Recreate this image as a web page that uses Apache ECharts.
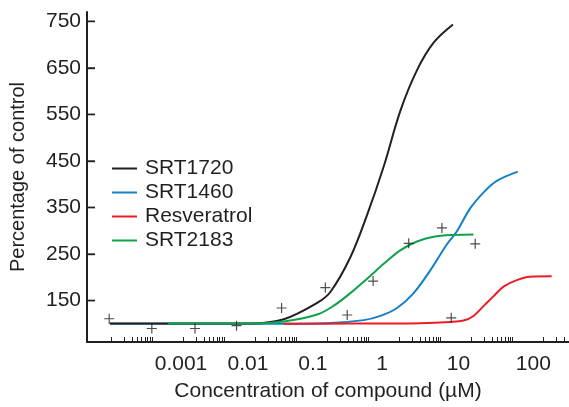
<!DOCTYPE html>
<html>
<head>
<meta charset="utf-8">
<script src="https://cdn.jsdelivr.net/npm/echarts@6.0.0/dist/echarts.min.js"></script>
<style>
  html, body { margin: 0; padding: 0; background: #fff; }
  #chart { width: 569px; height: 407px; }
</style>
</head>
<body>
<div id="chart"></div>
<script>
// fitted curves: concentration (µM) vs percentage of control
const srt1720Conc = [0.000096, 0.0086, 0.025, 0.0724, 0.111, 0.209, 0.357, 0.607, 1.03, 1.76, 2.99, 5.55];
const srt1720Pct  = [101, 101, 110, 145, 169, 243, 334, 438, 557, 645, 704, 743];

const srt1460Conc = [0.000096, 0.0086, 0.111, 0.321, 0.546, 0.929, 1.58, 2.69, 4.58, 6.3, 9.62, 14.7, 22.5, 44.1];
const srt1460Pct  = [100, 100, 102, 108, 117, 134, 166, 215, 271, 299, 348, 382, 407, 427];

const resveratrolConc = [0.0247, 0.209, 1.95, 5.08, 7.78, 10.7, 14.7, 20.2, 27.9, 42.7, 65.2, 130];
const resveratrolPct  = [100, 100.5, 101.5, 104, 107, 117, 138, 159, 180, 194, 201, 202];

const srt2183Conc = [0.000612, 0.0086, 0.025, 0.0724, 0.123, 0.209, 0.357, 0.607, 1.03, 1.76, 2.99, 5.65, 10.7];
const srt2183Pct  = [101, 101, 105, 120, 139, 166, 197, 229, 258, 277, 287, 291, 292];

// measured points (+)
const pointConc = [0.000094, 0.000367, 0.00146, 0.0055, 0.0232, 0.094, 0.189, 0.433, 1.35, 3.9, 5.25, 11.3];
const pointPct  = [111, 90, 90, 96, 134, 178, 119, 192, 273, 306, 113, 272];

const xTickLabels = ['0.001', '0.01', '0.1', '1', '10', '100'];
const yTickValues = [150, 250, 350, 450, 550, 650, 750];

// layout
const textColor = '#231f20';
const font = '"Liberation Sans", Arial, Helvetica, sans-serif';
const xMin = -4.335, xMax = 2.355;
// where the decade labels sit on the (log10) axis in the original figure
const xLabelAt = [-3.03, -2.1, -1.2, -0.24, 0.82, 1.86];

// decade ticks with the squeezed minor ticks of the original
const xTickAt = [];
for (let d = -4; d <= 2; d++) {
  for (let k = 1; k <= 9; k++) {
    const v = d + 0.6 * Math.log10(k);
    if (v <= xMax) xTickAt.push(v);
  }
}

const toLog = (conc, pct) => conc.map((c, i) => [Math.log10(c), pct[i]]);

function curve(name, conc, pct, color) {
  return {
    name: name,
    type: 'line',
    data: toLog(conc, pct),
    showSymbol: false,
    symbol: 'none',
    smooth: 0.35,
    itemStyle: { color: color },
    lineStyle: { color: color, width: 2 },
    silent: true
  };
}

const chart = echarts.init(document.getElementById('chart'), null, { renderer: 'canvas' });

const option = {
  animation: false,
  backgroundColor: '#fff',
  grid: { left: 86, right: 0, top: 12, bottom: 57 },
  legend: {
    orient: 'vertical',
    left: 112,
    top: 158,
    padding: 0,
    icon: 'rect',
    itemWidth: 25,
    itemHeight: 2,
    itemGap: 3,
    selectedMode: false,
    data: ['SRT1720', 'SRT1460', 'Resveratrol', 'SRT2183'],
    textStyle: { color: textColor, fontFamily: font, fontSize: 21, lineHeight: 21, padding: [0, 0, 0, 3] }
  },
  xAxis: {
    type: 'value',
    min: xMin,
    max: xMax,
    name: 'Concentration of compound (\u00b5M)',
    nameLocation: 'middle',
    nameGap: 39,
    nameTextStyle: { color: textColor, fontFamily: font, fontSize: 21 },
    axisLine: { onZero: false, lineStyle: { color: textColor, width: 2 } },
    axisTick: { inside: true, length: 5, customValues: xTickAt, lineStyle: { color: textColor, width: 1 } },
    axisLabel: {
      customValues: xLabelAt,
      margin: 12,
      color: textColor,
      fontFamily: font,
      fontSize: 21,
      formatter: function (v) {
        const i = xLabelAt.findIndex(p => Math.abs(p - v) < 1e-6);
        return i >= 0 ? xTickLabels[i] : '';
      }
    },
    splitLine: { show: false }
  },
  yAxis: {
    type: 'value',
    min: 61,
    max: 770,
    name: 'Percentage of control',
    nameLocation: 'middle',
    nameGap: 59,
    nameTextStyle: { color: textColor, fontFamily: font, fontSize: 20 },
    axisLine: { show: true, onZero: false, lineStyle: { color: textColor, width: 2 } },
    axisTick: { show: true, inside: true, length: 8, customValues: yTickValues, lineStyle: { color: textColor, width: 1.4 } },
    axisLabel: { customValues: yTickValues, margin: 6, color: textColor, fontFamily: font, fontSize: 21 },
    splitLine: { show: false }
  },
  series: [
    curve('SRT1460', srt1460Conc, srt1460Pct, '#1580c6'),
    curve('SRT1720', srt1720Conc, srt1720Pct, '#231f20'),
    curve('Resveratrol', resveratrolConc, resveratrolPct, '#ec1c24'),
    curve('SRT2183', srt2183Conc, srt2183Pct, '#10a24b'),
    {
      name: 'Measured',
      type: 'scatter',
      data: toLog(pointConc, pointPct),
      symbol: 'path://M0,5H10M5,0V10',
      symbolSize: 10,
      itemStyle: { color: 'rgba(0,0,0,0)', borderColor: textColor, borderWidth: 1.2 },
      z: 5,
      silent: true
    },
    {
      // inward y ticks, drawn as short bars sitting on the axis line
      name: 'yTicks',
      type: 'scatter',
      data: yTickValues.map(v => [xMin, v]),
      symbol: 'rect',
      symbolSize: [8, 1.5],
      symbolOffset: [4, 0],
      clip: false,
      itemStyle: { color: textColor },
      z: 6,
      silent: true
    }
  ]
};

chart.setOption(option);
</script>
</body>
</html>
